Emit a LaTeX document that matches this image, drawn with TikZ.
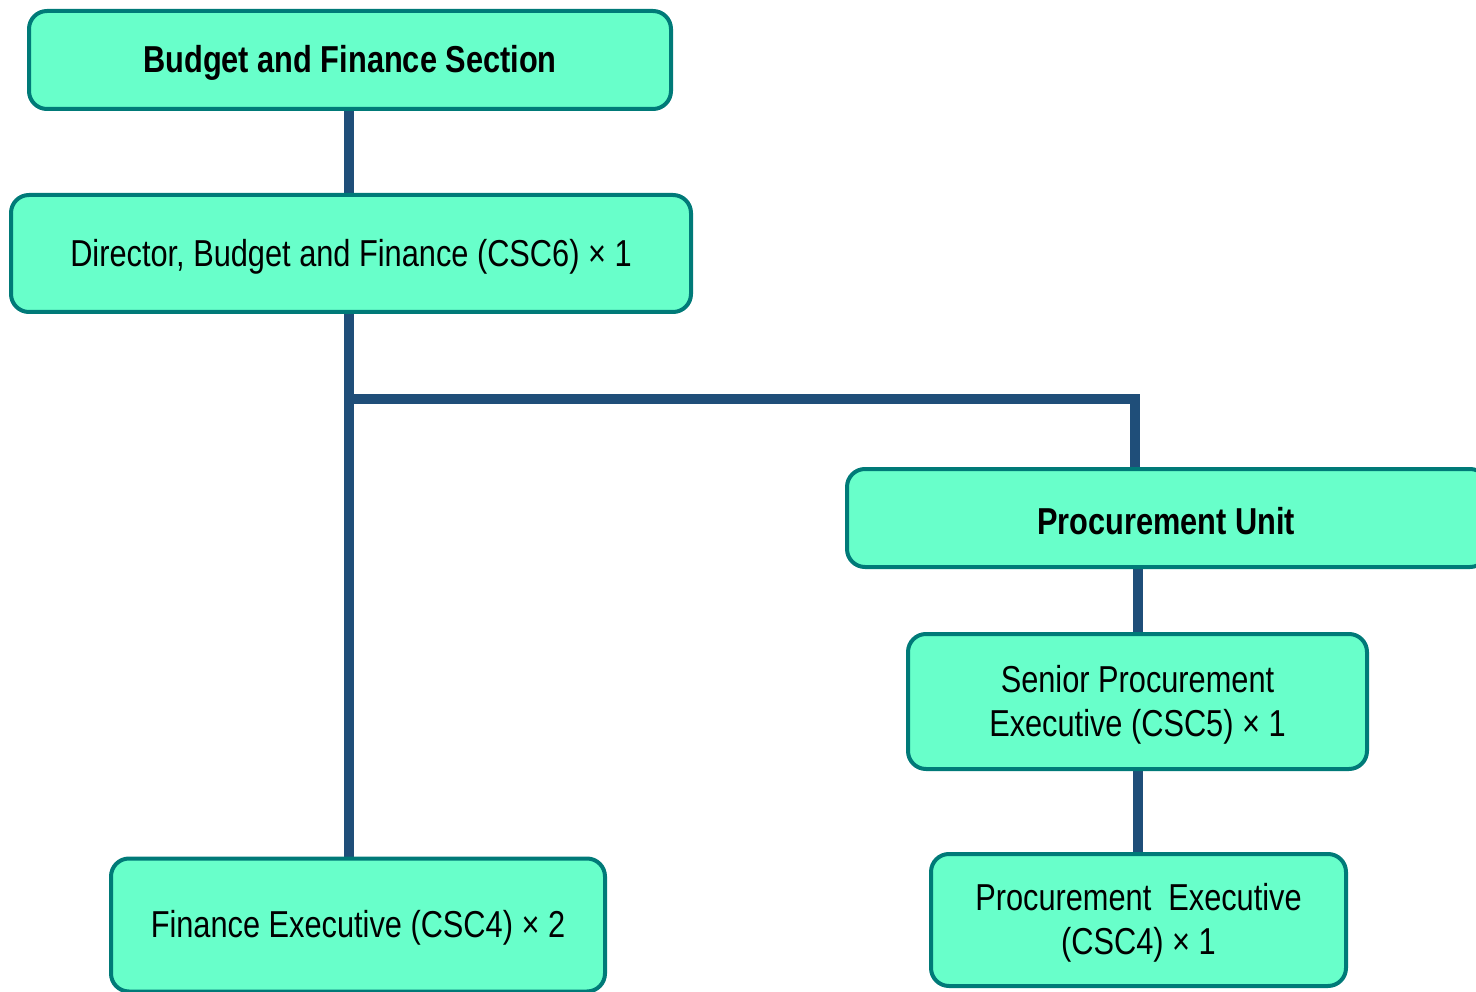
\documentclass[tikz,border=0pt]{standalone}
\usepackage{fontspec}
\setmainfont{Liberation Sans}[FakeStretch=0.82]
\usetikzlibrary{backgrounds}
\definecolor{boxfill}{HTML}{68FFCA}
\definecolor{boxedge}{HTML}{007A78}
\definecolor{conncol}{HTML}{1F4E79}
\tikzset{
  orgbox/.style={draw=boxedge, fill=boxfill, line width=4pt, rounded corners=18pt, inner sep=0pt},
  txt/.style={align=center, inner sep=0pt, font=\fontsize{37.5}{44}\selectfont},
  headtxt/.style={txt, font=\fontsize{37.5}{44}\selectfont\bfseries},
  conn/.style={draw=conncol, line width=10pt}
}
\begin{document}
\begin{tikzpicture}[x=1pt,y=-1pt]
\useasboundingbox (0,0) rectangle (1476,992);
\node[orgbox, minimum width=642pt, minimum height=98pt] (b1) at (350,60) {};
\node[orgbox, minimum width=680pt, minimum height=117pt] (b2) at (351,253.5) {};
\node[orgbox, minimum width=641pt, minimum height=98pt] (b3) at (1167.5,518) {};
\node[orgbox, minimum width=459pt, minimum height=135pt] (b4) at (1137.5,701.5) {};
\node[orgbox, minimum width=494pt, minimum height=133pt] (b5) at (358,925) {};
\node[orgbox, minimum width=415pt, minimum height=132pt] (b6) at (1138.5,920) {};
\node[headtxt] (t1) at ([yshift=-3pt]b1.center) {Budget and Finance Section};
\node[txt] (t2) at ([yshift=-3pt]b2.center) {Director, Budget and Finance (CSC6) × 1};
\node[headtxt] (t3) at ([xshift=-1.5pt,yshift=-3pt]b3.center) {Procurement Unit};
\node[txt] (t4) at ([yshift=-3pt]b4.center) {Senior Procurement\\Executive (CSC5) × 1};
\node[txt] (t5) at ([yshift=-3pt]b5.center) {Finance Executive (CSC4) × 2};
\node[txt] (t6) at ([yshift=-3pt]b6.center) {Procurement\ \ Executive\\(CSC4) × 1};
\coordinate (j) at (349,399);
\coordinate (k) at (1135,399);
\begin{scope}[on background layer]
\draw[conn] (b1.south -| j) -- (b2.north -| j);
\draw[conn] (b2.south -| j) -- (b5.north -| j);
\draw[conn] (j) -- (k) -- (k |- b3.north);
\draw[conn] (b4.north |- b3.south) -- (b4.north);
\draw[conn] (b4.south) -- (b4.south |- b6.north);
\end{scope}
\end{tikzpicture}
\end{document}
